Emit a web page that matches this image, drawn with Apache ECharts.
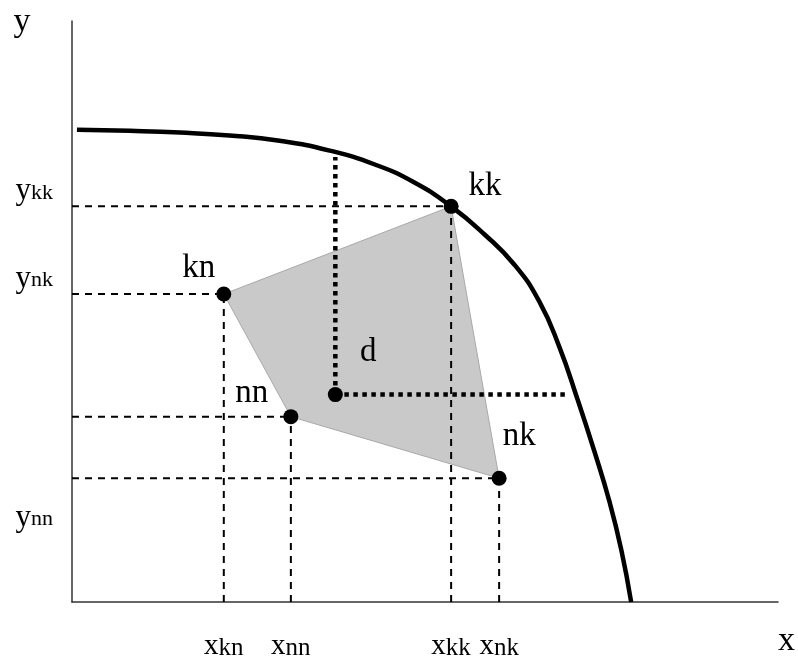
<!DOCTYPE html>
<html>
<head>
<meta charset="utf-8">
<script src="https://cdn.jsdelivr.net/npm/echarts@6.0.0/dist/echarts.min.js"></script>
<style>
  html, body { margin: 0; padding: 0; background: #fff; }
  #chart { width: 798px; height: 661px; }
</style>
</head>
<body>
<div id="chart"></div>
<script>
// points of the figure (data units, axes run 0..10)
const pointNames = ['kn', 'nn', 'd', 'kk', 'nk'];
const pointX = [2.15, 3.10, 3.73, 5.37, 6.05];
const pointY = [5.30, 3.19, 3.57, 6.81, 2.13];

// shaded quadrilateral, vertex order
const polygonOrder = ['kn', 'kk', 'nk', 'nn'];
// points that get dashed guides to both axes
const guideNames = ['kn', 'nn', 'kk', 'nk'];

// frontier curve
const curveX = [0.07, 0.82, 1.53, 2.23, 2.94, 3.65, 4.29, 4.85, 5.37,
  5.84, 6.27, 6.62, 6.90, 7.16, 7.40, 7.61, 7.78, 7.92];
const curveY = [8.13, 8.11, 8.08, 8.03, 7.94, 7.77, 7.53, 7.22, 6.81,
  6.33, 5.80, 5.17, 4.40, 3.49, 2.59, 1.74, 0.90, 0];

// dotted lines from d towards the curve
const dottedTopY = 7.66;
const dottedRightX = 7.03;

// tick labels
const xTickValues = [2.15, 3.10, 5.37, 6.05];
const xTickSubs = ['kn', 'nn', 'kk', 'nk'];
const yTickValues = [6.81, 5.30, 1.19];
const yTickSubs = ['kk', 'nk', 'nn'];

const FONT = '"Liberation Serif", "Times New Roman", serif';

const pt = {};
pointNames.forEach((n, i) => { pt[n] = [pointX[i], pointY[i]]; });

// label placement around each dot
const labelOffset = {
  kn: [-25, -26],
  nn: [-39, -23],
  d: [33, -42],
  kk: [34, -20],
  nk: [20, -42],
};

const dashedStyle = { color: '#000', width: 2, type: [7, 6] };
const dottedStyle = { color: '#000', width: 4.5, type: [4.5, 4.5] };

const guideSeries = [];
guideNames.forEach((n) => {
  const [x, y] = pt[n];
  guideSeries.push({
    type: 'line', symbol: 'none', silent: true, z: 3,
    lineStyle: dashedStyle,
    data: [[0, y], [x, y]],
  });
  guideSeries.push({
    type: 'line', symbol: 'none', silent: true, z: 3,
    lineStyle: dashedStyle,
    data: [[x, 0], [x, y]],
  });
});

const chart = echarts.init(document.getElementById('chart'));
chart.setOption({
  animation: false,
  grid: { left: 72, right: 19, top: 21, bottom: 53 },
  xAxis: {
    type: 'value', min: 0, max: 10,
    name: 'x', nameLocation: 'end', nameGap: 0,
    nameTextStyle: {
      fontFamily: FONT, fontSize: 34, color: '#000',
      align: 'left', verticalAlign: 'top', padding: [22, 0, 0, 0],
    },
    axisLine: { show: true, lineStyle: { color: '#333', width: 1.5 } },
    axisTick: { show: false },
    splitLine: { show: false },
    axisLabel: {
      show: true,
      customValues: xTickValues,
      margin: 29,
      formatter: (v) => '{m|x}{s|' + xTickSubs[xTickValues.indexOf(v)] + '}',
      rich: {
        m: { fontFamily: FONT, fontSize: 29, color: '#000' },
        s: { fontFamily: FONT, fontSize: 25, color: '#000', padding: [5, 0, 0, 0] },
      },
    },
  },
  yAxis: {
    type: 'value', min: 0, max: 10,
    name: 'y', nameLocation: 'end', nameGap: 16,
    nameTextStyle: {
      fontFamily: FONT, fontSize: 34, color: '#000',
      align: 'center', verticalAlign: 'top', padding: [0, 100, 0, 0],
    },
    axisLine: { show: true, lineStyle: { color: '#333', width: 1.5 } },
    axisTick: { show: false },
    splitLine: { show: false },
    axisLabel: {
      show: true,
      customValues: yTickValues,
      margin: 19,
      verticalAlign: 'bottom',
      formatter: (v) => '{m|y}{s|' + yTickSubs[yTickValues.indexOf(v)] + '}',
      rich: {
        m: { fontFamily: FONT, fontSize: 31, color: '#000' },
        s: { fontFamily: FONT, fontSize: 22, color: '#000', padding: [4, 0, 0, 0] },
      },
    },
  },
  series: [
    {
      type: 'custom', z: 1, silent: true,
      data: [[0, 0]],
      renderItem: (params, api) => ({
        type: 'polygon',
        shape: { points: polygonOrder.map((n) => api.coord(pt[n])) },
        style: { fill: '#c9c9c9', stroke: '#a9a9a9', lineWidth: 1 },
      }),
    },
    ...guideSeries,
    {
      type: 'line', symbol: 'none', silent: true, z: 4,
      lineStyle: dottedStyle,
      data: [pt.d, [pt.d[0], dottedTopY]],
    },
    {
      type: 'line', symbol: 'none', silent: true, z: 4,
      lineStyle: dottedStyle,
      data: [pt.d, [dottedRightX, pt.d[1]]],
    },
    {
      // frontier: smooth polyline through the read points
      type: 'custom', z: 5, silent: true,
      data: [[0, 0]],
      renderItem: (params, api) => ({
        type: 'polyline',
        shape: {
          points: curveX.map((x, i) => api.coord([x, curveY[i]])),
          smooth: 0.5,
        },
        style: { stroke: '#000', lineWidth: 4.5, fill: null, lineJoin: 'round' },
      }),
    },
    {
      type: 'scatter', z: 6, silent: true,
      symbol: 'circle', symbolSize: 15,
      itemStyle: { color: '#000', opacity: 1 },
      data: pointNames.map((n, i) => ({
        value: [pointX[i], pointY[i]],
        name: n,
        label: {
          show: true, position: 'inside', offset: labelOffset[n],
          formatter: n,
          fontFamily: FONT, fontSize: 33, color: '#000',
          textBorderWidth: 0,
        },
      })),
    },
  ],
});
</script>
</body>
</html>
